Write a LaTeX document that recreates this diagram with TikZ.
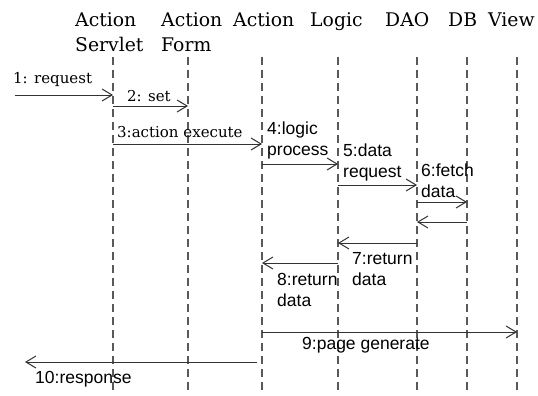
\documentclass[tikz,border=0pt]{standalone}
\usepackage{fontspec}
\setmainfont{DejaVu Serif}
\newfontfamily\lblsans{Liberation Sans}
\usetikzlibrary{arrows.meta}

\tikzset{
  head/.style={anchor=base west, inner sep=0pt, font=\fontsize{18.8}{25}\selectfont},
  sermsg/.style={anchor=base west, inner sep=0pt, font=\fontsize{15}{20}\selectfont},
  % two-line labels: the base anchor sits on the last line
  sanmsg/.style={anchor=base west, inner sep=0pt, align=left,
    font=\lblsans\fontsize{17.5}{20.5}\selectfont},
  lifeline/.style={draw=black!65, line width=1.3pt, dash pattern=on 8pt off 5pt},
  msg/.style={draw=black!80, line width=1pt,
    -{Straight Barb[length=10pt,width=12pt,line width=1pt]}},
}

\begin{document}
\begin{tikzpicture}[x=1pt, y=-1pt]
\useasboundingbox (0,0) rectangle (538,396);

% participant headings
\node[head] (hServlet) at (75,27)  {Action};
\node[head] (hServlet2) at (75,52) {Servlet};
\node[head] (hForm)    at (161,27) {Action};
\node[head] (hForm2)   at (161,52) {Form};
\node[head] (hAction)  at (233,27) {Action};
\node[head] (hLogic)   at (310,27) {Logic};
\node[head] (hDAO)     at (385,27) {DAO};
\node[head] (hDB)      at (448,27) {DB};
\node[head] (hView)    at (488,27) {View};

% lifelines
\foreach \n/\x in {sv/113, fm/188, ac/262, lg/338, da/417, db/467, vw/517} {
  \coordinate (\n) at (\x,57);
  \coordinate (\n-end) at (\x,392);
  \draw[lifeline] (\n) -- (\n-end);
}

% free ends of the outer messages
\coordinate (client-in)  at (15,95);
\coordinate (client-out) at (25,362);

% messages
\draw[msg] (client-in) -- (client-in -| sv);
\node[sermsg] (l1) at (13,83) {1: request};

\draw[msg] (sv |- 0,106) -- (fm |- 0,106);
\node[sermsg] (l2) at (127,101) {2: set};

\draw[msg] (sv |- 0,144) -- (ac |- 0,144);
\node[sermsg] (l3) at (117,137) {3:action execute};

\draw[msg] (ac |- 0,164) -- (lg |- 0,164);
\node[sanmsg] (l4) at (267,155) {4:logic\\process};

\draw[msg] (lg |- 0,185) -- (da |- 0,185);
\node[sanmsg] (l5) at (343,177) {5:data\\request};

\draw[msg] (da |- 0,202) -- (db |- 0,202);
\node[sanmsg] (l6) at (421,197) {6:fetch\\data};

\draw[msg] (db |- 0,222) -- (da |- 0,222);

\draw[msg] (da |- 0,243) -- (lg |- 0,243);
\node[sanmsg] (l7) at (352,285) {7:return\\data};

\draw[msg] (lg |- 0,263) -- (ac |- 0,263);
\node[sanmsg] (l8) at (277,306) {8:return\\data};

\draw[msg] (ac |- 0,332) -- (vw |- 0,332);
\node[sanmsg] (l9) at (302,349) {9:page generate};

\draw[msg] (client-out -| 257,0) -- (client-out);
\node[sanmsg] (l10) at (35,383) {10:response};
\end{tikzpicture}
\end{document}
